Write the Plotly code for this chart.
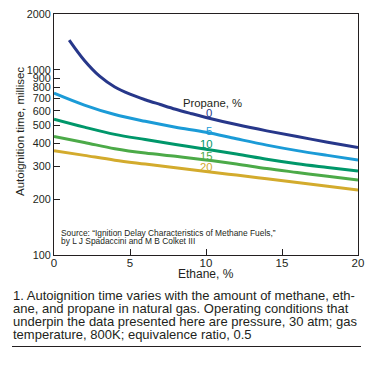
import plotly.graph_objects as go

ethane = [0, 2, 4, 6, 8, 10, 12, 14, 16, 18, 20]
ethane_p0 = [1, 2, 3, 4, 5, 6, 7, 8, 9, 10, 12, 14, 16, 18, 20]
p0 = [1445, 1122, 923, 807, 738, 689, 649, 612, 581, 553, 506, 468, 436, 406, 380]
p5 = [748, 645, 573, 527, 490, 460, 424, 392, 366, 345, 326]
p10 = [541, 490, 448, 420, 395, 372, 351, 329, 311, 297, 284]
p15 = [436, 405, 375, 355, 341, 326, 310, 293, 279, 266, 254]
p20 = [366, 345, 325, 310, 296, 282, 270, 258, 246, 235, 224]
propane_labels = ["0", "5", "10", "15", "20"]
ytick_vals = [100, 200, 300, 400, 500, 600, 700, 800, 900, 1000, 2000]
xtick_vals = [0, 5, 10, 15, 20]
source_lines = ["Source: \u201cIgnition Delay Characteristics of Methane Fuels,\u201d",
                "by L J Spadaccini and M B Colket III"]
caption_lines = ["1. Autoignition time varies with the amount of methane, eth-",
                 "ane, and propane in natural gas. Operating conditions that",
                 "underpin the data presented here are pressure, 30 atm; gas",
                 "temperature, 800K; equivalence ratio, 0.5"]

colors = ["#27378a", "#1b9bd7", "#00976a", "#4caa48", "#d3ab2d"]
series = [(ethane_p0, p0), (ethane, p5), (ethane, p10), (ethane, p15), (ethane, p20)]

fig = go.Figure()
for (xs, ys), c in zip(series, colors):
    fig.add_trace(go.Scatter(x=xs, y=ys, mode="lines",
                             line=dict(color=c, width=3, shape="spline", smoothing=1.0),
                             showlegend=False, hoverinfo="skip"))

font = "Liberation Sans, Arial, sans-serif"
ink = "#231f20"

# plot area: x 54..358, y 14..255 px
def py(pix):
    return (255 - pix) / 241.0

def px(pix):
    return (pix - 54) / 304.0

fig.add_annotation(x=10.45, y=2.82, text="Propane, %", showarrow=False,
                   font=dict(family=font, size=11.3, color=ink))
label_pos = [(10.2, 2.764), (10.2, 2.670), (10.0, 2.600), (10.0, 2.537), (10.0, 2.474)]
for lab, (lx, ly), c in zip(propane_labels, label_pos, colors):
    fig.add_annotation(x=lx, y=ly, text=lab, showarrow=False,
                       font=dict(family=font, size=11.3, color=c))

for i, line in enumerate(source_lines):
    fig.add_annotation(xref="paper", yref="paper", x=px(59), y=py(232.5 + 8.4 * i),
                       xanchor="left", yanchor="middle", showarrow=False, text=line,
                       font=dict(family=font, size=8.4, color=ink))

for i, line in enumerate(caption_lines):
    fig.add_annotation(xref="paper", yref="paper", x=px(11), y=py(295 + 13.3 * i),
                       xanchor="left", yanchor="middle", showarrow=False, text=line,
                       font=dict(family=font, size=13, color=ink))

# axis titles
fig.add_annotation(xref="paper", yref="paper", x=px(206), y=py(274),
                   xanchor="center", yanchor="middle", showarrow=False, text="Ethane, %",
                   font=dict(family=font, size=12, color=ink))
fig.add_annotation(xref="paper", yref="paper", x=px(20), y=py(132),
                   xanchor="center", yanchor="middle", showarrow=False, textangle=-90,
                   text="Autoignition time, millisec",
                   font=dict(family=font, size=11.5, color=ink))

fig.add_shape(type="line", xref="paper", yref="paper", x0=px(12), x1=px(361),
              y0=py(346.5), y1=py(346.5), line=dict(color=ink, width=1))

fig.update_layout(
    width=365, height=376,
    margin=dict(l=54, r=7, t=14, b=121),
    paper_bgcolor="white", plot_bgcolor="white",
    font=dict(family=font, size=12, color=ink),
    xaxis=dict(range=[0, 20], tickvals=xtick_vals, ticks="inside", ticklen=6, tickcolor=ink,
               showline=True, linecolor=ink, linewidth=1, mirror=True, showgrid=False, zeroline=False,
               tickfont=dict(size=11.5), ticklabelstandoff=-3, automargin=False),
    yaxis=dict(type="log", range=[2, 3.30103], tickvals=ytick_vals,
               ticktext=[str(v) for v in ytick_vals], ticks="inside", ticklen=6, tickcolor=ink,
               showline=True, linecolor=ink, linewidth=1, mirror=True, showgrid=False, zeroline=False,
               tickfont=dict(size=10.8), automargin=False),
)

fig.write_html("out.html", config={"displayModeBar": False},
               post_script="document.body.style.margin='0';")
